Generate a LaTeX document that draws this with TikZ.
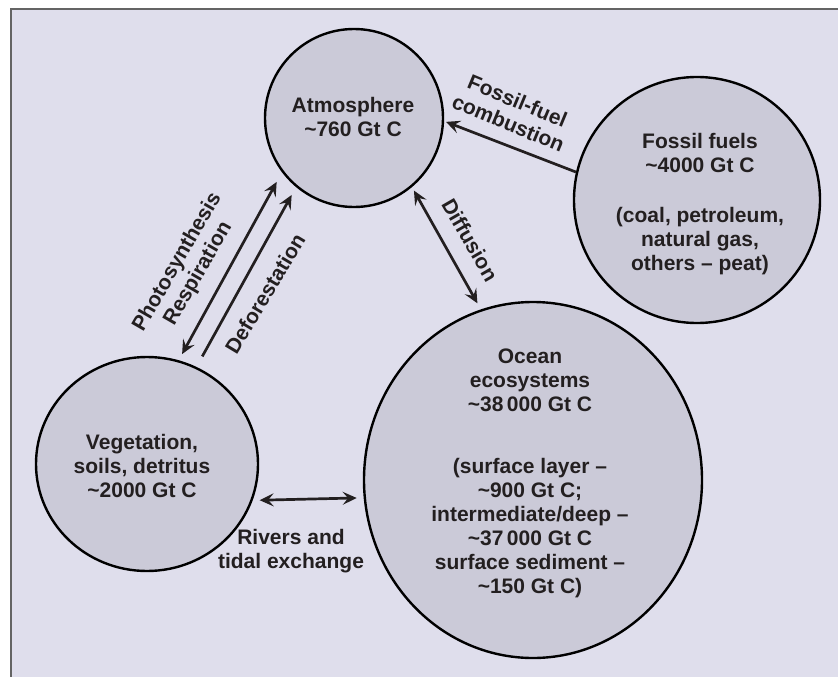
\documentclass[tikz,border=0pt]{standalone}
\usepackage{fontspec}
\setmainfont{Liberation Sans}
\usetikzlibrary{arrows.meta,shapes.geometric}
\definecolor{bgc}{RGB}{223,222,236}
\definecolor{poolc}{RGB}{203,202,216}
\definecolor{inkc}{RGB}{35,31,32}
\definecolor{framec}{RGB}{100,100,100}
\newcommand\txtfont{\bfseries\fontsize{21}{24}\selectfont}
\begin{document}
\begin{tikzpicture}[x=1pt,y=-1pt,
  pool/.style={ellipse, draw=black, line width=2.4pt, fill=poolc, inner sep=0pt},
  lbl/.style={text=inkc, align=center, font=\txtfont, inner sep=0pt},
  flow/.style={line width=2.7pt, draw=inkc, -{Stealth[length=14pt,width=13pt,inset=5.5pt]}},
  dflow/.style={line width=2.7pt, draw=inkc, {Stealth[length=14pt,width=13pt,inset=5.5pt]}-{Stealth[length=14pt,width=13pt,inset=5.5pt]}}]
\useasboundingbox (0,0) rectangle (838,677);
\fill[white] (0,0) rectangle (838,677);
\fill[bgc] (11,9) rectangle (838,677);
\draw[framec, line width=1.5pt] (11,677) -- (11,9) -- (838,9);

% pools
\node[pool, minimum width=178pt, minimum height=178pt] (atm) at (354,118) {};
\node[pool, minimum width=246pt, minimum height=246pt] (fos) at (697,200) {};
\node[pool, minimum width=222pt, minimum height=214pt] (veg) at (147,464) {};
\node[pool, minimum width=338pt, minimum height=356pt] (ocn) at (533,480) {};

% pool texts
\node[lbl] (atmT) at (353,117) {Atmosphere\\\textasciitilde760 Gt C};
\node[lbl] (fosT) at (700,204) {Fossil fuels\\\textasciitilde4000 Gt C\\[26pt](coal, petroleum,\\natural gas,\\others \textendash\ peat)};
\node[lbl] (vegT) at (142,466) {Vegetation,\\soils, detritus\\\textasciitilde2000 Gt C};
\node[lbl] (ocnT) at (530,473) {Ocean\\ecosystems\\\textasciitilde38\,000 Gt C\\[38pt](surface layer \textendash\\\textasciitilde900 Gt C;\\intermediate/deep \textendash\\\textasciitilde37\,000 Gt C\\surface sediment \textendash\\\textasciitilde150 Gt C)};

% connectors
\draw[flow, shorten >=2pt] (fos.167) -- (atm.-2.5);
\draw[dflow, shorten <=4pt, shorten >=7pt] (atm.-50) -- (ocn.107.3);
\draw[dflow, shorten <=7pt, shorten >=11pt] (veg.73.5) -- (atm.217.6);
\draw[flow, shorten <=12pt, shorten >=9pt] (veg.63) -- (atm.230.7);
\draw[dflow, shorten <=7pt, shorten >=7pt] (veg.-19.3) -- (ocn.186.8);

% flow labels
\node[lbl, rotate=-22.5] (ffL) at (513,112) {Fossil-fuel\\combustion};
\node[lbl, rotate=-60] (diffL) at (470,240) {Diffusion};
\node[lbl, rotate=60] (photoL) at (188,268) {Photosynthesis\\Respiration};
\node[lbl, rotate=59] (defL) at (265,294) {Deforestation};
\node[lbl] (rivL) at (291,551) {Rivers and\\tidal exchange};
\end{tikzpicture}
\end{document}
